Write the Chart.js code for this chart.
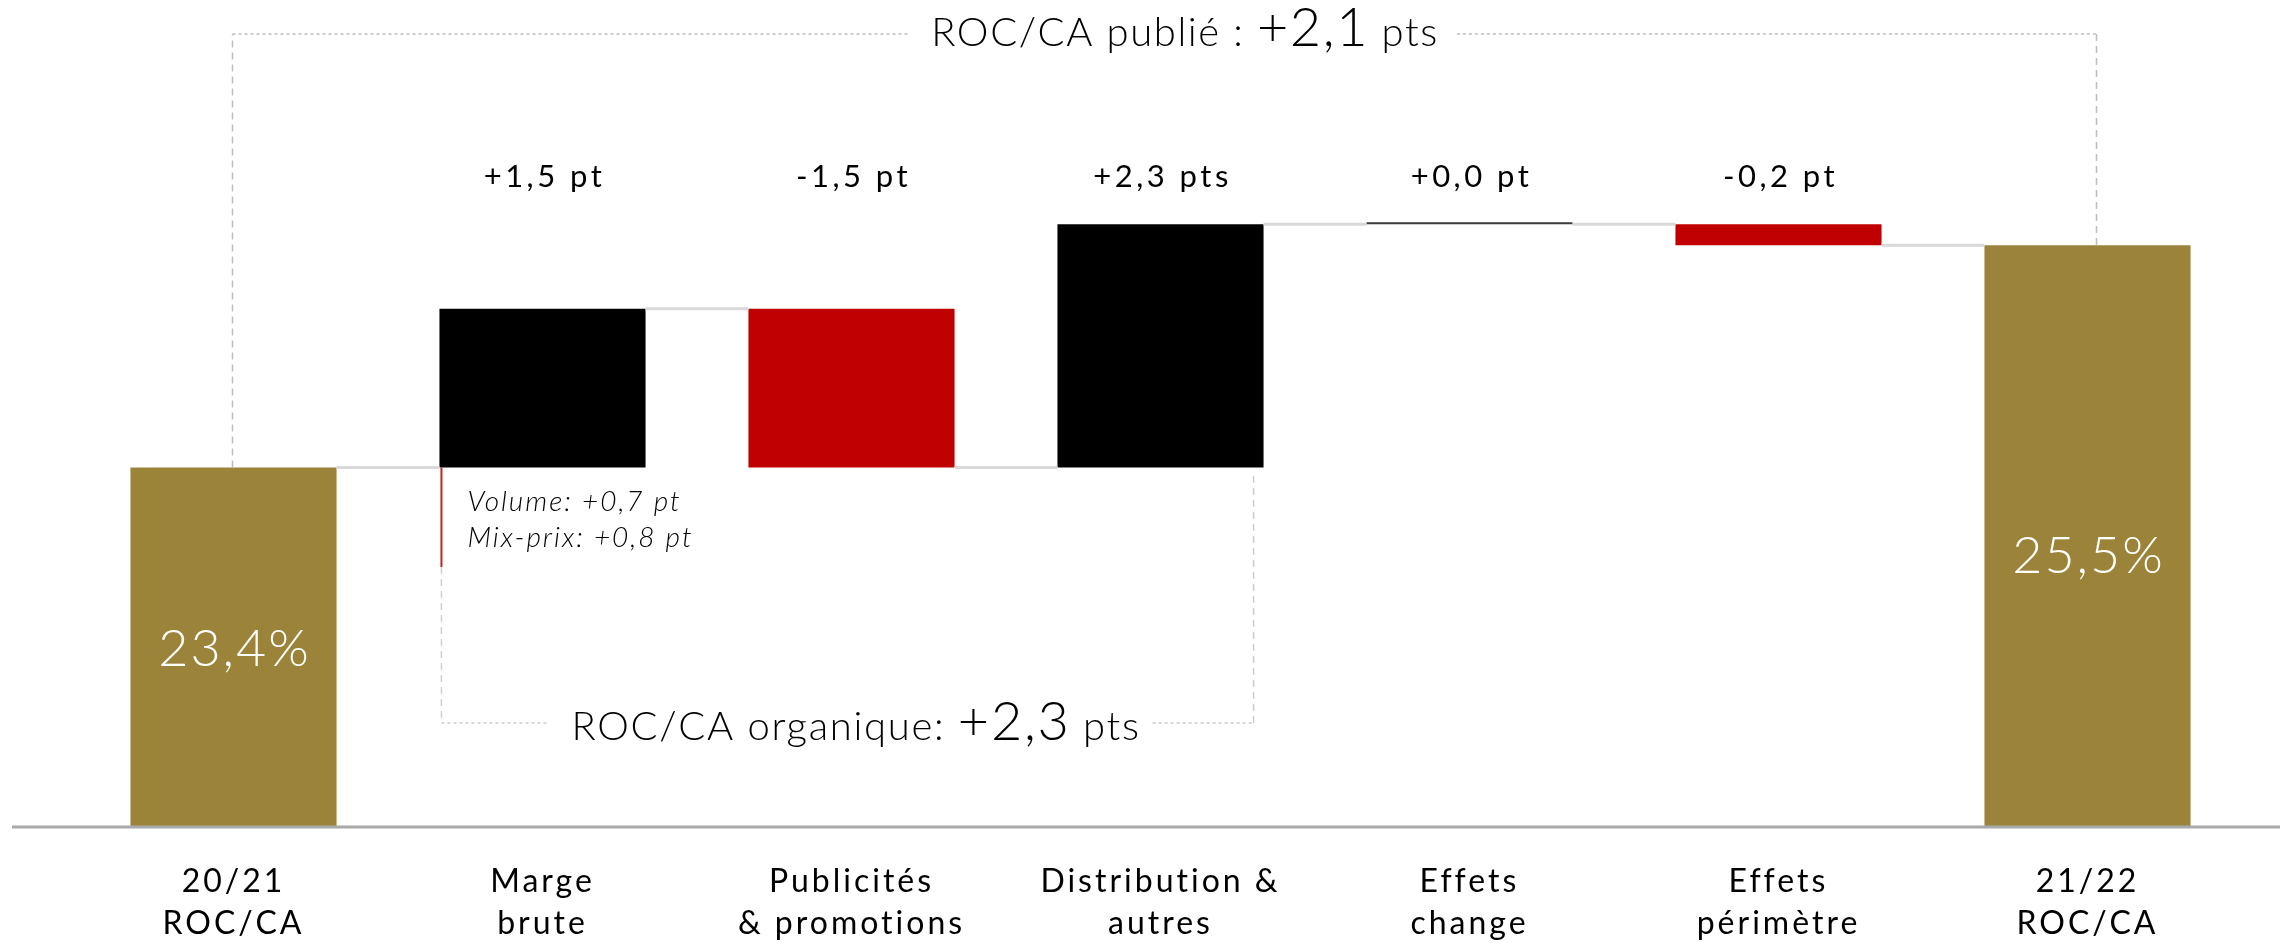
<!DOCTYPE html>
<html><head><meta charset="utf-8">
<script src="https://cdn.jsdelivr.net/npm/chart.js@4"></script>
<style>html,body{margin:0;padding:0;background:#fff;} canvas{display:block;}</style>
</head><body>
<canvas id="c" width="2287" height="945"></canvas>
<script>
// ---- data ----
const categories = [['20/21','ROC/CA'],['Marge','brute'],['Publicités','& promotions'],['Distribution &','autres'],['Effets','change'],['Effets','périmètre'],['21/22','ROC/CA']];
const startValue = 23.4;
const endValue = 25.5;
const deltas = [1.5, -1.5, 2.3, 0.0, -0.2];
const deltaLabels = ['+1,5 pt','-1,5 pt','+2,3 pts','+0,0 pt','-0,2 pt'];
const totalLabels = ['23,4%','25,5%'];
const publishedChange = ['ROC/CA publié : ', '+2,1', ' pts'];
const organicChange = ['ROC/CA organique: ', '+2,3', ' pts'];
const grossMarginDetail = ['Volume: +0,7 pt', 'Mix-prix: +0,8 pt'];
const axisFloor = 20;
const axisCeil = 27.82;

// ---- build waterfall ranges ----
const ranges = [[axisFloor, startValue]];
let run = startValue;
deltas.forEach(d => { const next = +(run + d).toFixed(2); ranges.push([run, next]); run = next; });
ranges.push([axisFloor, endValue]);
const levels = [startValue];
for (let i = 1; i < ranges.length - 1; i++) levels.push(ranges[i][1]);

const GOLD = '#9C833A', BLACK = '#000000', RED = '#C00000', ZERO = '#3a3a3a';
const colors = ranges.map((r, i) => {
  if (i === 0 || i === ranges.length - 1) return GOLD;
  const d = deltas[i - 1];
  return d > 0 ? BLACK : (d < 0 ? RED : ZERO);
});

const FONT = 'Lato';
function line(ctx, x1, y1, x2, y2, dash, color, w) {
  ctx.save(); ctx.beginPath(); ctx.setLineDash(dash); ctx.strokeStyle = color; ctx.lineWidth = w;
  ctx.moveTo(x1, y1); ctx.lineTo(x2, y2); ctx.stroke(); ctx.restore();
}
function mixedText(ctx, parts, sizes, cx, baseline, spacing) {
  ctx.save();
  ctx.letterSpacing = spacing + 'px';
  const fonts = sizes.map(s => `300 ${s}px ${FONT}`);
  const widths = parts.map((p, i) => { ctx.font = fonts[i]; return ctx.measureText(p).width; });
  const total = widths.reduce((a, b) => a + b, 0);
  let x = cx - total / 2;
  ctx.textAlign = 'left'; ctx.textBaseline = 'alphabetic'; ctx.fillStyle = '#000';
  parts.forEach((p, i) => { ctx.font = fonts[i]; ctx.fillText(p, x, baseline); x += widths[i]; });
  ctx.restore();
  return [cx - total / 2, cx + total / 2];
}

const annot = {
  id: 'annot',
  beforeDraw(chart) { chart.ctx.letterSpacing = '3px'; },
  afterDatasetsDraw(chart) {
    const ctx = chart.ctx;
    const ys = chart.scales.y;
    const bars = chart.getDatasetMeta(0).data;
    const n = bars.length;
    // baseline
    line(ctx, 12, chart.chartArea.bottom, 2280, chart.chartArea.bottom, [], '#a9a9a9', 3);
    // connectors
    for (let i = 0; i < n - 1; i++) {
      const y = ys.getPixelForValue(levels[i]);
      line(ctx, bars[i].x + bars[i].width / 2, y, bars[i + 1].x - bars[i + 1].width / 2, y, [], '#d9d9d9', 3);
    }
    // delta labels
    ctx.save();
    ctx.letterSpacing = '3.5px';
    ctx.font = `400 31px ${FONT}`; ctx.fillStyle = '#000'; ctx.textAlign = 'center'; ctx.textBaseline = 'alphabetic';
    deltaLabels.forEach((t, k) => { ctx.fillText(t, bars[k + 1].x + 2, 187); });
    // total labels
    ctx.letterSpacing = '2px';
    ctx.font = `300 52px ${FONT}`; ctx.fillStyle = '#fff';
    [0, n - 1].forEach((idx, k) => {
      const b = bars[idx];
      const mid = (b.y + b.base) / 2;
      ctx.fillText(totalLabels[k], b.x + 1, mid + 19 + (k === 1 ? 18 : 0));
    });
    ctx.restore();

    const DASH_C = '#bdbdbd';
    // top bracket (published)
    const topY = 34;
    const xL = bars[0].x - 1, xR = bars[n - 1].x + 9;
    const [t1, t2] = mixedText(ctx, publishedChange, [40, 54, 40], 1185, 46, 1.6);
    line(ctx, xL, ys.getPixelForValue(startValue), xL, topY, [7, 5], DASH_C, 1.5);
    line(ctx, xL, topY, t1 - 22, topY, [3, 3], DASH_C, 1.5);
    line(ctx, t2 + 18, topY, xR, topY, [3, 3], DASH_C, 1.5);
    line(ctx, xR, topY, xR, ys.getPixelForValue(endValue), [7, 5], DASH_C, 1.5);

    // organic bracket
    const botY = 723;
    const ox1 = bars[1].x - bars[1].width / 2 + 2;
    const ox2 = bars[3].x + bars[3].width / 2 - 10;
    const y0 = ys.getPixelForValue(startValue);
    line(ctx, ox1, y0, ox1, 567, [], '#c82020', 2);
    line(ctx, ox1, 567, ox1, botY, [7, 5], '#d0d0d0', 1.5);
    const [o1, o2] = mixedText(ctx, organicChange, [40, 54, 40], 856, 740, 1.7);
    line(ctx, ox1, botY, o1 - 22, botY, [3, 3], '#cccccc', 1.5);
    line(ctx, o2 + 12, botY, ox2, botY, [3, 3], '#cccccc', 1.5);
    line(ctx, ox2, botY, ox2, y0 + 7, [7, 5], '#cccccc', 1.5);

    // gross margin detail
    ctx.save();
    ctx.letterSpacing = '2px';
    ctx.font = `italic 300 28px ${FONT}`; ctx.fillStyle = '#000'; ctx.textAlign = 'left'; ctx.textBaseline = 'alphabetic';
    ctx.fillText(grossMarginDetail[0], ox1 + 26, 511);
    ctx.fillText(grossMarginDetail[1], ox1 + 26, 547);
    ctx.restore();
  }
};

function draw() {
  new Chart(document.getElementById('c'), {
    type: 'bar',
    data: {
      labels: categories,
      datasets: [{
        data: ranges,
        backgroundColor: colors,
        borderWidth: 0,
        minBarLength: 2,
        categoryPercentage: 1,
        barPercentage: 0.667
      }]
    },
    options: {
      responsive: false,
      animation: false,
      events: [],
      layout: { padding: { left: 79, right: 45, top: 0, bottom: 0 } },
      plugins: { legend: { display: false }, tooltip: { enabled: false } },
      scales: {
        x: {
          grid: { display: false, drawTicks: false },
          border: { display: false },
          ticks: { font: { family: FONT, size: 32, weight: 400, lineHeight: 1.31 }, color: '#000', padding: 34, maxRotation: 0, autoSkip: false },
          afterFit(s) { s.height = 118; }
        },
        y: { display: false, min: axisFloor, max: axisCeil }
      }
    },
    plugins: [annot]
  });
}
if (document.fonts && document.fonts.load) {
  Promise.all([document.fonts.load(`300 32px ${FONT}`), document.fonts.load(`400 32px ${FONT}`), document.fonts.load(`italic 300 28px ${FONT}`)]).then(draw, draw);
} else draw();
</script>
</body></html>
